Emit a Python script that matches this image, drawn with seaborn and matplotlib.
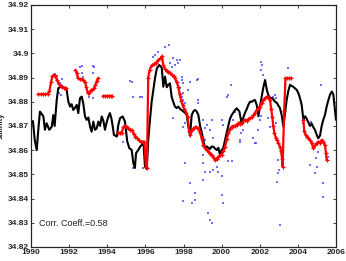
import numpy as np
import pandas as pd
import matplotlib
matplotlib.use("Agg")
import matplotlib.pyplot as plt
import seaborn as sns

# model series (black)
model_years = [
    1990.00, 1990.10, 1990.20, 1990.30, 1990.40, 1990.47, 1990.56, 1990.65, 1990.73, 1990.82,
    1990.96, 1991.09, 1991.17, 1991.24, 1991.35, 1991.43, 1991.61, 1991.78, 1991.87, 1991.96,
    1992.05, 1992.13, 1992.22, 1992.31, 1992.40, 1992.48, 1992.57, 1992.66, 1992.74, 1992.83,
    1992.92, 1993.01, 1993.10, 1993.18, 1993.27, 1993.36, 1993.45, 1993.53, 1993.62, 1993.71,
    1993.80, 1993.88, 1993.97, 1994.06, 1994.14, 1994.22, 1994.29, 1994.35, 1994.50, 1994.58,
    1994.67, 1994.81, 1994.93, 1994.98, 1995.05, 1995.16, 1995.28, 1995.37, 1995.45, 1995.51,
    1995.63, 1995.72, 1995.81, 1995.90, 1995.98, 1996.07, 1996.15, 1996.24, 1996.33, 1996.42,
    1996.51, 1996.60, 1996.73, 1996.86, 1996.94, 1997.03, 1997.12, 1997.20, 1997.29, 1997.38,
    1997.46, 1997.55, 1997.64, 1997.73, 1997.82, 1997.90, 1997.99, 1998.08, 1998.17, 1998.25,
    1998.34, 1998.43, 1998.52, 1998.60, 1998.69, 1998.78, 1998.87, 1998.95, 1999.04, 1999.13,
    1999.22, 1999.30, 1999.39, 1999.48, 1999.57, 1999.66, 1999.75, 1999.83, 1999.92, 2000.00,
    2000.09, 2000.18, 2000.26, 2000.35, 2000.44, 2000.53, 2000.61, 2000.70, 2000.79, 2000.93,
    2001.05, 2001.14, 2001.23, 2001.32, 2001.40, 2001.49, 2001.58, 2001.67, 2001.75, 2001.84,
    2001.93, 2002.01, 2002.10, 2002.19, 2002.28, 2002.37, 2002.45, 2002.54, 2002.63, 2002.72,
    2002.80, 2002.90, 2002.97, 2003.06, 2003.15, 2003.24, 2003.32, 2003.41, 2003.50, 2003.59,
    2003.68, 2003.76, 2003.85, 2003.94, 2004.03, 2004.11, 2004.20, 2004.29, 2004.38, 2004.46,
    2004.55, 2004.64, 2004.72, 2004.81, 2004.90, 2004.99, 2005.07, 2005.16, 2005.25, 2005.33,
    2005.42, 2005.51, 2005.60, 2005.69, 2005.78, 2005.86, 2005.95, 2006.00,
]
model_sal = [
    34.8715, 34.8720, 34.8640, 34.8600, 34.8700, 34.8759, 34.8750, 34.8739, 34.8684, 34.8711,
    34.8684, 34.8697, 34.8745, 34.8700, 34.8808, 34.8856, 34.8863, 34.8856, 34.8849, 34.8800,
    34.8780, 34.8790, 34.8766, 34.8775, 34.8787, 34.8753, 34.8815, 34.8821, 34.8794, 34.8740,
    34.8725, 34.8735, 34.8697, 34.8676, 34.8718, 34.8684, 34.8690, 34.8718, 34.8700, 34.8739,
    34.8720, 34.8684, 34.8715, 34.8739, 34.8753, 34.8730, 34.8697, 34.8663, 34.8656, 34.8704,
    34.8732, 34.8739, 34.8718, 34.8684, 34.8635, 34.8608, 34.8601, 34.8546, 34.8526, 34.8587,
    34.8601, 34.8614, 34.8622, 34.8630, 34.8532, 34.8522, 34.8640, 34.8725, 34.8800, 34.8849,
    34.8900, 34.8938, 34.8952, 34.8940, 34.8862, 34.8904, 34.8860, 34.8870, 34.8876, 34.8820,
    34.8800, 34.8780, 34.8774, 34.8780, 34.8770, 34.8766, 34.8760, 34.8754, 34.8745, 34.8700,
    34.8660, 34.8745, 34.8760, 34.8766, 34.8760, 34.8745, 34.8700, 34.8676, 34.8640, 34.8609,
    34.8615, 34.8610, 34.8605, 34.8615, 34.8614, 34.8606, 34.8600, 34.8610, 34.8580, 34.8600,
    34.8610, 34.8642, 34.8670, 34.8700, 34.8730, 34.8745, 34.8755, 34.8765, 34.8773, 34.8760,
    34.8711, 34.8735, 34.8755, 34.8770, 34.8787, 34.8800, 34.8800, 34.8805, 34.8807, 34.8787,
    34.8740, 34.8780, 34.8821, 34.8860, 34.8890, 34.8849, 34.8828, 34.8816, 34.8815, 34.8810,
    34.8800, 34.8795, 34.8785, 34.8774, 34.8745, 34.8697, 34.8750, 34.8807, 34.8845, 34.8870,
    34.8865, 34.8862, 34.8855, 34.8849, 34.8835, 34.8815, 34.8787, 34.8725, 34.8740, 34.8730,
    34.8715, 34.8700, 34.8710, 34.8695, 34.8683, 34.8663, 34.8649, 34.8660, 34.8700, 34.8725,
    34.8745, 34.8780, 34.8807, 34.8830, 34.8842, 34.8830, 34.8760, 34.8725,
]

# smoothed observations (red), five pieces with gaps between them
obs_seg1_years = [1990.37, 1990.50, 1990.62, 1990.75, 1990.87, 1990.97, 1991.05, 1991.12,
                  1991.20, 1991.28, 1991.36, 1991.45, 1991.55, 1991.65, 1991.75, 1991.85]
obs_seg1_sal = [34.8831, 34.8831, 34.8831, 34.8831, 34.8831, 34.8845, 34.8880, 34.8905,
                34.8911, 34.8908, 34.8890, 34.8875, 34.8865, 34.8860, 34.8858, 34.8856]

obs_seg2_years = [1992.33, 1992.40, 1992.45, 1992.55, 1992.65, 1992.75, 1992.83, 1992.90,
                  1992.97, 1993.05, 1993.12, 1993.20, 1993.30, 1993.38, 1993.45, 1993.52]
obs_seg2_sal = [34.8930, 34.8920, 34.8900, 34.8893, 34.8893, 34.8888, 34.8883, 34.8860,
                34.8838, 34.8835, 34.8845, 34.8850, 34.8855, 34.8870, 34.8885, 34.8897]

obs_seg3_years = [1993.78, 1993.88, 1993.98, 1994.08, 1994.18, 1994.25]
obs_seg3_sal = [34.8825, 34.8825, 34.8825, 34.8825, 34.8825, 34.8825]

obs_seg4_years = [
    1994.55, 1994.65, 1994.75, 1994.85, 1994.93, 1995.02, 1995.10, 1995.20, 1995.30, 1995.40,
    1995.48, 1995.57, 1995.66, 1995.75, 1995.85, 1995.95, 1996.03, 1996.08, 1996.15, 1996.22,
    1996.33, 1996.45, 1996.57, 1996.68, 1996.80, 1996.86, 1996.94, 1997.03, 1997.12, 1997.20,
    1997.30, 1997.40, 1997.48, 1997.55, 1997.64, 1997.73, 1997.80, 1997.88, 1997.96, 1998.05,
    1998.15, 1998.22, 1998.30, 1998.36, 1998.45, 1998.55, 1998.65, 1998.75, 1998.85, 1998.95,
    1999.04, 1999.13, 1999.22, 1999.32, 1999.40, 1999.48, 1999.57, 1999.65, 1999.74, 1999.83,
    1999.92, 2000.00, 2000.09, 2000.18, 2000.27, 2000.35, 2000.44, 2000.53, 2000.62, 2000.70,
    2000.79, 2000.88, 2000.97, 2001.06, 2001.14, 2001.23, 2001.32, 2001.40, 2001.49, 2001.58,
    2001.67, 2001.75, 2001.84, 2001.93, 2002.02, 2002.10, 2002.19, 2002.28, 2002.37, 2002.45,
    2002.54, 2002.60, 2002.66, 2002.71, 2002.77, 2002.84, 2002.90, 2002.98, 2003.06, 2003.12,
    2003.17, 2003.20, 2003.28, 2003.35, 2003.45, 2003.55, 2003.65,
]
obs_seg4_sal = [
    34.8672, 34.8672, 34.8670, 34.8695, 34.8700, 34.8695, 34.8690, 34.8685, 34.8683, 34.8665,
    34.8656, 34.8650, 34.8640, 34.8635, 34.8635, 34.8633, 34.8532, 34.8525, 34.8900, 34.8931,
    34.8950, 34.8955, 34.8962, 34.8973, 34.8980, 34.8987, 34.8952, 34.8935, 34.8926, 34.8924,
    34.8920, 34.8912, 34.8905, 34.8897, 34.8880, 34.8862, 34.8830, 34.8805, 34.8785, 34.8770,
    34.8755, 34.8735, 34.8680, 34.8663, 34.8685, 34.8692, 34.8697, 34.8690, 34.8676, 34.8650,
    34.8622, 34.8608, 34.8600, 34.8592, 34.8585, 34.8580, 34.8570, 34.8560, 34.8565, 34.8573,
    34.8578, 34.8580, 34.8597, 34.8614, 34.8645, 34.8670, 34.8688, 34.8697, 34.8700, 34.8700,
    34.8705, 34.8711, 34.8708, 34.8712, 34.8720, 34.8725, 34.8722, 34.8728, 34.8732, 34.8735,
    34.8745, 34.8755, 34.8765, 34.8773, 34.8780, 34.8795, 34.8807, 34.8815, 34.8821, 34.8818,
    34.8807, 34.8770, 34.8735, 34.8700, 34.8670, 34.8652, 34.8642, 34.8628, 34.8614, 34.8595,
    34.8565, 34.8532, 34.8760, 34.8897, 34.8897, 34.8897, 34.8897,
]

obs_seg5_years = [2004.29, 2004.33, 2004.40, 2004.48, 2004.55, 2004.64, 2004.73, 2004.81,
                  2004.90, 2004.99, 2005.07, 2005.16, 2005.25, 2005.33, 2005.42, 2005.47, 2005.51]
obs_seg5_sal = [34.8725, 34.8680, 34.8663, 34.8655, 34.8650, 34.8640, 34.8628, 34.8608,
                34.8620, 34.8628, 34.8635, 34.8630, 34.8642, 34.8635, 34.8621, 34.8590, 34.8560]

# individual observations (blue dots)
raw_years = [
    1991.26, 1991.38, 1991.61, 1991.52, 1991.61, 1991.48, 1991.56, 1992.66, 1993.27, 1992.66,
    1992.74, 1993.27, 1993.06, 1993.27, 1995.19, 1995.37, 1995.72, 1994.84, 1995.37, 1995.89,
    1997.03, 1997.26, 1996.68, 1996.51, 1997.47, 1997.64, 1997.82, 1997.29, 1997.55, 1997.73,
    1997.38, 1997.91, 1997.91, 1997.99, 1998.34, 1998.78, 1997.82, 1997.99, 1998.25, 1997.91,
    1997.99, 1998.08, 1998.78, 1998.78, 1997.99, 1997.47, 1998.08, 1997.99, 1999.04, 1999.48,
    1999.22, 1999.13, 1999.39, 1999.56, 1999.13, 1999.04, 1999.30, 2000.00, 2000.09, 1998.08,
    1999.04, 1999.04, 1999.13, 1999.39, 1999.56, 1999.83, 1999.74, 1999.04, 1998.34, 2000.00,
    1998.60, 1997.99, 1998.43, 1998.60, 2000.00, 2000.09, 1999.30, 1999.39, 1999.48, 2000.53,
    2000.32, 2000.96, 2001.14, 2001.75, 2003.06, 2002.97, 2002.92, 2004.90, 2004.99, 2005.34,
    2005.34, 2002.08, 2002.12, 2002.08, 2002.17, 2003.48, 2005.23, 2000.51, 2000.69, 2000.60,
    2000.95, 2001.03, 2000.95, 2001.65, 2001.82, 2001.91, 2002.00, 2002.08, 2002.43, 2002.52,
    2002.79, 2002.87, 2002.87, 2002.96, 2003.00, 2004.27, 2004.62, 2004.71, 2004.97, 2005.06,
    2005.58, 2002.70, 2000.27, 2000.35, 1998.69, 1996.42, 1995.28, 1995.81, 1992.57, 1993.31,
]
raw_sal = [
    34.8915, 34.8907, 34.8893, 34.8877, 34.8866, 34.8835, 34.8828, 34.8948, 34.8948, 34.8918,
    34.8904, 34.8918, 34.8821, 34.8815, 34.8887, 34.8821, 34.8821, 34.8635, 34.8526, 34.8526,
    34.9028, 34.9035, 34.9007, 34.8994, 34.8980, 34.8973, 34.8973, 34.8959, 34.8952, 34.8959,
    34.8945, 34.8904, 34.8890, 34.8877, 34.8883, 34.8893, 34.8856, 34.8835, 34.8849, 34.8821,
    34.8808, 34.8794, 34.8808, 34.8794, 34.8780, 34.8732, 34.8711, 34.8697, 34.8725, 34.8725,
    34.8704, 34.8691, 34.8684, 34.8649, 34.8642, 34.8615, 34.8601, 34.8725, 34.8704, 34.8546,
    34.8580, 34.8546, 34.8511, 34.8511, 34.8518, 34.8511, 34.8532, 34.8477, 34.8464, 34.8491,
    34.8422, 34.8388, 34.8381, 34.8395, 34.8415, 34.8381, 34.8340, 34.8312, 34.8298, 34.8557,
    34.8557, 34.8635, 34.8684, 34.8629, 34.8291, 34.8505, 34.8470, 34.8505, 34.8532, 34.8464,
    34.8408, 34.8966, 34.8952, 34.8932, 34.8911, 34.8939, 34.8870, 34.8870, 34.8759, 34.8725,
    34.8718, 34.8670, 34.8642, 34.8649, 34.8629, 34.8684, 34.8725, 34.8739, 34.8732, 34.8697,
    34.8828, 34.8815, 34.8711, 34.8560, 34.8519, 34.8711, 34.8539, 34.8718, 34.8567, 34.8594,
    34.8573, 34.8821, 34.8821, 34.8828, 34.8890, 34.8986, 34.8883, 34.8821, 34.8945, 34.8945,
]

x_ticks = [1990, 1992, 1994, 1996, 1998, 2000, 2002, 2004, 2006]
y_ticks = [34.82, 34.83, 34.84, 34.85, 34.86, 34.87, 34.88, 34.89, 34.90, 34.91, 34.92]
y_tick_labels = ["34.82", "34.83", "34.84", "34.85", "34.86", "34.87", "34.88",
                 "34.89", "34.9", "34.91", "34.92"]

model_df = pd.DataFrame({"year": model_years, "salinity": model_sal})
raw_df = pd.DataFrame({"year": raw_years, "salinity": raw_sal})
seg_years = [obs_seg1_years, obs_seg2_years, obs_seg3_years, obs_seg4_years, obs_seg5_years]
seg_sal = [obs_seg1_sal, obs_seg2_sal, obs_seg3_sal, obs_seg4_sal, obs_seg5_sal]
obs_df = pd.concat(
    [pd.DataFrame({"year": yy, "salinity": ss, "seg": i}) for i, (yy, ss) in enumerate(zip(seg_years, seg_sal))],
    ignore_index=True,
)

sns.set_style("ticks")
plt.rcParams["font.family"] = ["Liberation Sans", "DejaVu Sans"]

fig = plt.figure(figsize=(3.46, 2.61), dpi=100)
ax = fig.add_axes([0.0896, 0.054, 0.8815, 0.927])

sns.scatterplot(data=raw_df, x="year", y="salinity", ax=ax, color="#3030ff", s=2.5,
                marker="s", linewidth=0, alpha=0.7, zorder=1)
sns.lineplot(data=model_df, x="year", y="salinity", ax=ax, color="black", lw=1.5,
             estimator=None, zorder=2)
sns.lineplot(data=obs_df, x="year", y="salinity", units="seg", estimator=None, ax=ax,
             color="red", lw=1.6, marker="+", markersize=3.5, markeredgewidth=0.9,
             markeredgecolor="red", zorder=3)

ax.set_xlim(1990, 2006)
ax.set_ylim(34.82, 34.92)
ax.set_xticks(x_ticks)
ax.set_xticklabels([str(t) for t in x_ticks])
ax.set_yticks(y_ticks)
ax.set_yticklabels(y_tick_labels)
ax.tick_params(direction="in", length=2.5, width=0.6, labelsize=6, pad=1.5,
               top=True, right=True)
for lab in ax.get_xticklabels() + ax.get_yticklabels():
    lab.set_fontweight("bold")
for sp in ax.spines.values():
    sp.set_visible(True)
    sp.set_linewidth(0.9)

ax.set_xlabel("")
ax.set_ylabel("salinity", fontsize=5.5, fontweight="bold")
ax.yaxis.set_label_coords(-0.086, 0.5)

ax.text(1990.4, 34.8285, "Corr. Coeff.=0.58", fontsize=6.5, color="#222222")

fig.savefig("out.png", dpi=100)
